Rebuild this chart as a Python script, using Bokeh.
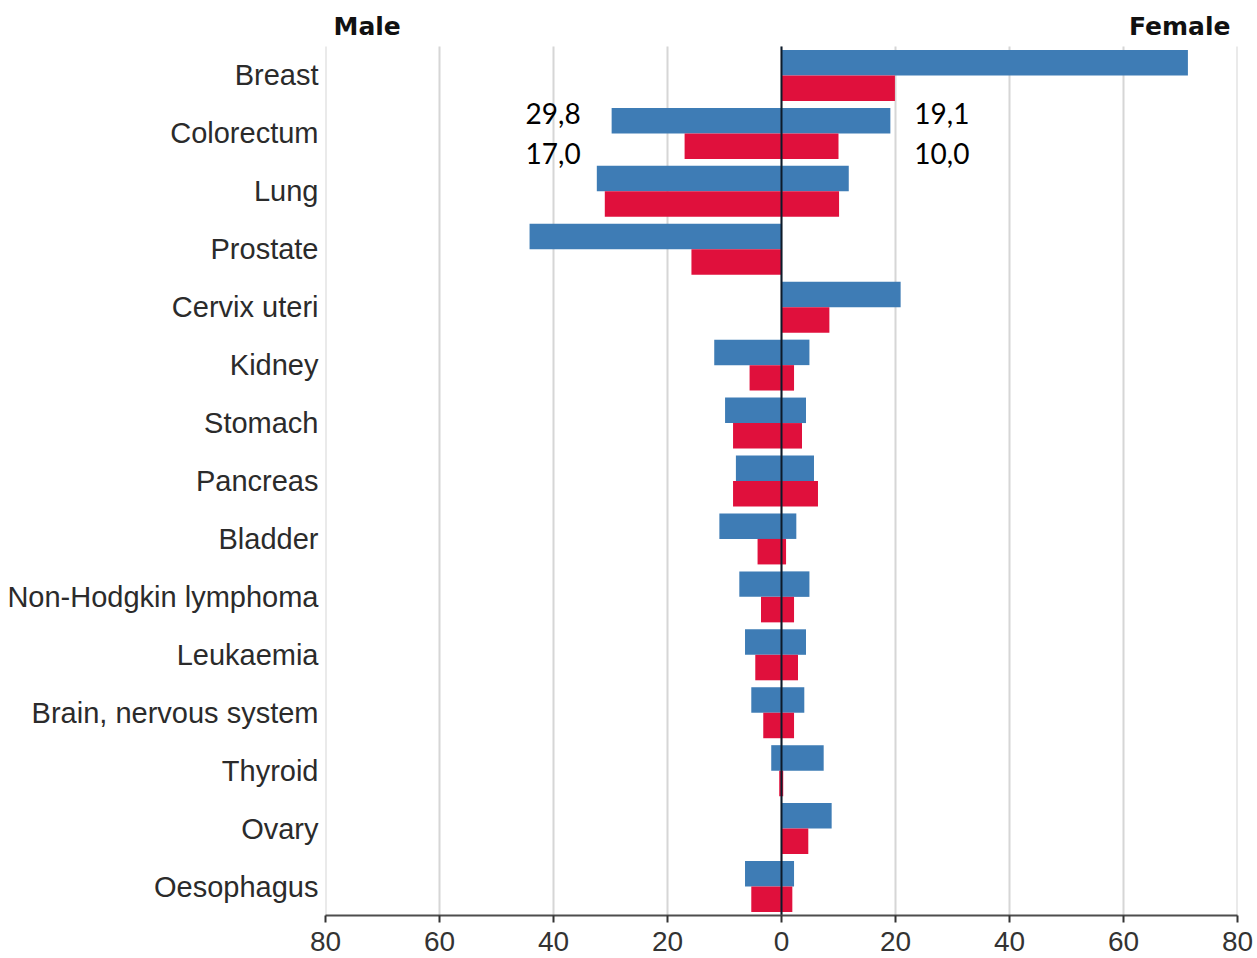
from bokeh.plotting import figure
from bokeh.models import ColumnDataSource, FixedTicker, Label, Range1d
from bokeh.transform import dodge
from bokeh.core.properties import value
from bokeh.embed import file_html
from bokeh.resources import INLINE

# ---- data -------------------------------------------------------------
cancer_sites = ["Breast", "Colorectum", "Lung", "Prostate", "Cervix uteri",
                "Kidney", "Stomach", "Pancreas", "Bladder",
                "Non-Hodgkin lymphoma", "Leukaemia", "Brain, nervous system",
                "Thyroid", "Ovary", "Oesophagus"]
male_incidence = [0, 29.8, 32.4, 44.2, 0, 11.8, 9.9, 8.0, 10.9, 7.4, 6.4, 5.3, 1.8, 0, 6.4]
male_mortality = [0, 17.0, 31.0, 15.8, 0, 5.6, 8.5, 8.5, 4.2, 3.6, 4.6, 3.2, 0.4, 0, 5.3]
female_incidence = [71.3, 19.1, 11.8, 0, 20.9, 4.9, 4.3, 5.7, 2.6, 4.9, 4.3, 4.0, 7.4, 8.8, 2.2]
female_mortality = [19.9, 10.0, 10.1, 0, 8.4, 2.2, 3.6, 6.4, 0.8, 2.2, 2.9, 2.2, 0.3, 4.7, 1.9]

tick_values = [-80, -60, -40, -20, 0, 20, 40, 60, 80]
tick_labels = ["80", "60", "40", "20", "0", "20", "40", "60", "80"]

highlight_site = "Colorectum"

BLUE = "#3e7cb5"
RED = "#e0103c"
TEXT = "#2b2b2b"

# ---- layout -----------------------------------------------------------
n = len(cancer_sites)
rows = [n - k - 0.5 for k in range(n)]          # first site at the top
HEADER_PX = 46          # space above the bars for the Male / Female headers
AXIS_PX = 915           # y position of the x axis
y_top = n * AXIS_PX / (AXIS_PX - HEADER_PX)

p = figure(width=1257, height=958,
           y_range=Range1d(0, y_top), x_range=Range1d(-80, 80),
           output_backend="svg", toolbar_location=None,
           min_border_left=325, min_border_right=20,
           min_border_top=0, min_border_bottom=43)
p.outline_line_color = None
p.background_fill_color = "white"

# vertical grid lines (only over the bar area)
grid_src = ColumnDataSource(dict(x=tick_values, y0=[0] * len(tick_values),
                                 y1=[n] * len(tick_values)))
p.segment(x0="x", y0="y0", x1="x", y1="y1", source=grid_src,
          line_color="#d6d6d6", line_width=2)

src = ColumnDataSource(dict(
    row=rows,
    m_inc=[-v for v in male_incidence],
    m_mort=[-v for v in male_mortality],
    f_inc=female_incidence,
    f_mort=female_mortality,
))

up = dodge("row", 0.22)
down = dodge("row", -0.22)
p.hbar(y=up, left="m_inc", right=0, height=0.44, source=src, fill_color=BLUE, line_color=None)
p.hbar(y=up, left=0, right="f_inc", height=0.44, source=src, fill_color=BLUE, line_color=None)
p.hbar(y=down, left="m_mort", right=0, height=0.44, source=src, fill_color=RED, line_color=None)
p.hbar(y=down, left=0, right="f_mort", height=0.44, source=src, fill_color=RED, line_color=None)

# zero line
p.segment(x0=[0], y0=[0], x1=[0], y1=[n], line_color="#0d1b2a", line_width=2)

# value annotations for the highlighted site
i = cancer_sites.index(highlight_site)
fmt = lambda v: f"{v:.1f}".replace(".", ",")
text_style = dict(text_baseline="middle", text_font=value("Lato"),
                  text_font_size="28px", text_color="black")
for val_x, val, off, align, xoff in [
        (-male_incidence[i], male_incidence[i], 0.34, "right", -31),
        (-male_incidence[i], male_mortality[i], -0.34, "right", -31),
        (female_incidence[i], female_incidence[i], 0.34, "left", 24),
        (female_incidence[i], female_mortality[i], -0.34, "left", 24)]:
    s = ColumnDataSource(dict(x=[val_x], row=[rows[i]], txt=[fmt(val)]))
    p.text(x="x", y=dodge("row", off), text="txt", source=s,
           x_offset=xoff, text_align=align, **text_style)

# headers just above the bars
p.add_layout(Label(x=-80, y=n, x_offset=8, y_offset=20, text="Male",
                   text_font="DejaVu Sans", text_font_style="bold", text_font_size="25px",
                   text_color="#111111", text_align="left", text_baseline="alphabetic"))
p.add_layout(Label(x=80, y=n, x_offset=-7, y_offset=20, text="Female",
                   text_font="DejaVu Sans", text_font_style="bold", text_font_size="25px",
                   text_color="#111111", text_align="right", text_baseline="alphabetic"))

# axes
p.xaxis.ticker = FixedTicker(ticks=tick_values)
p.xaxis.major_label_overrides = dict(zip(tick_values, tick_labels))
p.xaxis.major_label_text_font = "Liberation Sans"
p.xaxis.major_label_text_font_size = "28px"
p.xaxis.major_label_text_color = "#333333"
p.xaxis.axis_line_color = "#4d4d4d"
p.xaxis.axis_line_width = 2
p.xaxis.major_tick_line_color = "#333333"
p.xaxis.major_tick_line_width = 2
p.xaxis.major_tick_out = 7
p.xaxis.major_tick_in = 0
p.xaxis.minor_tick_line_color = None
p.xaxis.major_label_standoff = 9

p.yaxis.ticker = FixedTicker(ticks=rows)
p.yaxis.major_label_overrides = dict(zip(rows, cancer_sites))
p.yaxis.axis_line_color = None
p.yaxis.major_tick_line_color = None
p.yaxis.minor_tick_line_color = None
p.yaxis.major_tick_out = 0
p.yaxis.major_tick_in = 0
p.yaxis.major_label_standoff = 7
p.yaxis.major_label_text_font = "Liberation Sans"
p.yaxis.major_label_text_font_size = "29px"
p.yaxis.major_label_text_color = TEXT

p.xgrid.grid_line_color = None
p.ygrid.grid_line_color = None

open("out.html", "w").write(file_html(p, INLINE))
